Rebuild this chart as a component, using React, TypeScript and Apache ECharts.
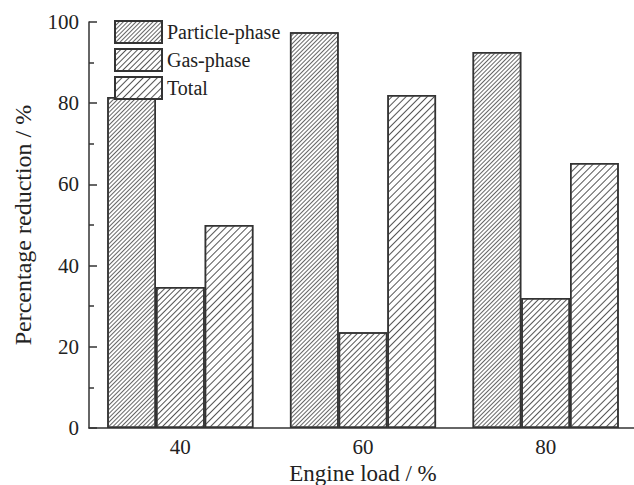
import React, { useEffect, useRef } from "react";
import * as echarts from "echarts";

const categories = ["40", "60", "80"];
const seriesNames = ["Particle-phase", "Gas-phase", "Total"];
const particlePhase = [81.5, 97.5, 92.6];
const gasPhase = [34.7, 23.6, 32.0];
const total = [50.0, 82.0, 65.3];
const yTickLabels = [0, 20, 40, 60, 80, 100];

const FONT = "Liberation Serif";

export default function App() {
  const ref = useRef<HTMLDivElement>(null);
  useEffect(() => {
    document.body.style.margin = "0";
    const chart = echarts.init(ref.current!, null, { renderer: "svg" });
    const decal = (gap: number, color: string) => ({
      symbol: "rect",
      symbolSize: 1,
      rotation: -Math.PI / 4,
      dashArrayX: [[1, 0]],
      dashArrayY: [1, gap],
      color,
      backgroundColor: "#fff",
    });
    const mk = (name: string, data: number[], gap: number, color: string) => ({
      name,
      type: "bar",
      data,
      barGap: "0%",
      barCategoryGap: "20%",
      itemStyle: {
        color: "#fff",
        borderColor: "#333",
        borderWidth: 1.5,
        decal: decal(gap, color),
      },
    });
    chart.setOption({
      animation: false,
      backgroundColor: "#fff",
      textStyle: { fontFamily: FONT },
      legend: {
        orient: "vertical",
        left: 109,
        top: 15,
        icon: "rect",
        itemWidth: 47,
        itemHeight: 22,
        itemGap: 4,
        textStyle: { fontFamily: FONT, fontSize: 20, color: "#222" },
        data: seriesNames,
      },
      grid: { left: 89, top: 22, width: 548, bottom: 57, outerBoundsMode: "none", containLabel: false },
      xAxis: {
        type: "category",
        data: categories,
        name: "Engine load / %",
        nameLocation: "middle",
        nameGap: 29,
        nameTextStyle: { fontFamily: FONT, fontSize: 23, color: "#222" },
        axisLine: { lineStyle: { color: "#333", width: 1.5 } },
        axisTick: { show: false },
        axisLabel: { fontFamily: FONT, fontSize: 21, color: "#222", margin: 8 },
      },
      yAxis: {
        type: "value",
        min: 0,
        max: 100,
        interval: 20,
        name: "Percentage reduction / %",
        nameLocation: "middle",
        nameGap: 54,
        nameTextStyle: { fontFamily: FONT, fontSize: 24, color: "#222" },
        axisLine: { show: true, lineStyle: { color: "#333", width: 1.5 } },
        axisTick: { show: true, inside: true, length: 8, lineStyle: { color: "#333", width: 1.5 } },
        minorTick: { show: true, splitNumber: 2, length: 5, lineStyle: { color: "#333", width: 1.5 } },
        axisLabel: {
          fontFamily: FONT,
          fontSize: 21,
          color: "#222",
          margin: 10,
          formatter: (v: number) => (yTickLabels.includes(v) ? String(v) : ""),
        },
        splitLine: { show: false },
      },
      series: [
        mk(seriesNames[0], particlePhase, 1.1, "#666"),
        mk(seriesNames[1], gasPhase, 2.3, "#555"),
        mk(seriesNames[2], total, 3.8, "#555"),
      ],
    });
    return () => chart.dispose();
  }, []);
  return <div ref={ref} style={{ width: 634, height: 485 }} />;
}
